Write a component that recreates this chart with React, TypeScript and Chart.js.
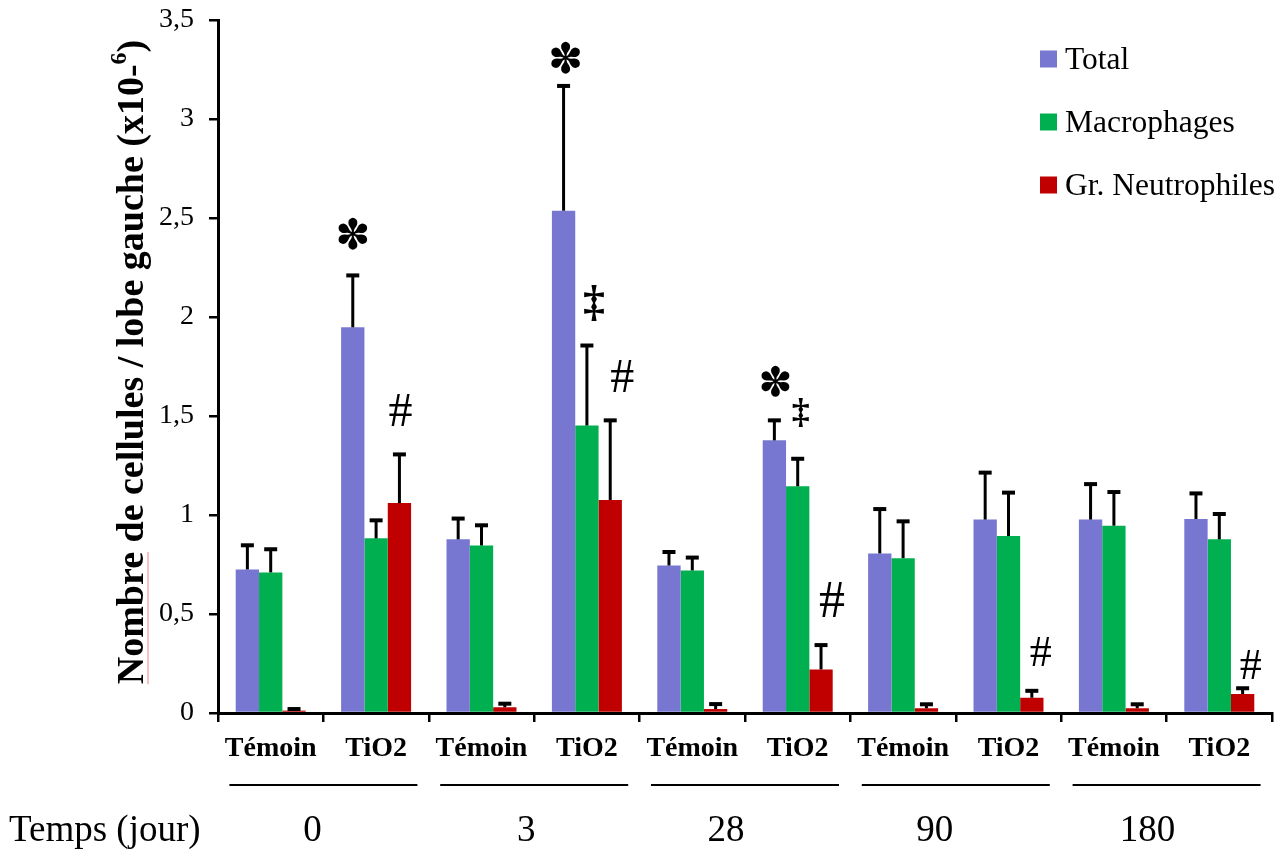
import React, { useEffect, useRef } from "react";
import { Chart, registerables } from "chart.js";

Chart.register(...registerables);

// ---------- DATA ----------
const categories = ["Témoin", "TiO2", "Témoin", "TiO2", "Témoin", "TiO2", "Témoin", "TiO2", "Témoin", "TiO2"];
const timeGroups = ["0", "3", "28", "90", "180"];
const timeAxisLabel = "Temps (jour)";
const seriesNames = ["Total", "Macrophages", "Gr. Neutrophiles"];

const totalValues = [0.725, 1.948, 0.877, 2.537, 0.745, 1.377, 0.806, 0.977, 0.977, 0.98];
const totalSD = [0.122, 0.262, 0.105, 0.63, 0.068, 0.101, 0.224, 0.237, 0.179, 0.129];

const macroValues = [0.71, 0.882, 0.846, 1.452, 0.72, 1.145, 0.782, 0.894, 0.946, 0.877];
const macroSD = [0.117, 0.091, 0.102, 0.404, 0.065, 0.139, 0.186, 0.219, 0.17, 0.128];

const neutroValues = [0.012, 1.06, 0.029, 1.076, 0.02, 0.22, 0.024, 0.077, 0.024, 0.096];
const neutroSD = [0.008, 0.246, 0.018, 0.402, 0.025, 0.123, 0.02, 0.035, 0.02, 0.029];

const yMin = 0;
const yMax = 3.5;
const yStep = 0.5;

// significance marks: category index, series index, value (centre of the mark), symbol
const annotations = [
  { cat: 1, series: 0, y: 2.42, symbol: "*" },
  { cat: 1, series: 2, y: 1.528, symbol: "#" },
  { cat: 3, series: 0, y: 3.31, symbol: "*" },
  { cat: 3, series: 1, y: 2.073, symbol: "‡" },
  { cat: 3, series: 2, y: 1.704, symbol: "#" },
  { cat: 5, series: 0, y: 1.679, symbol: "*" },
  { cat: 5, series: 1, y: 1.518, symbol: "‡" },
  { cat: 5, series: 2, y: 0.575, symbol: "#" },
  { cat: 7, series: 2, y: 0.309, symbol: "#" },
  { cat: 9, series: 2, y: 0.247, symbol: "#" },
];

// ---------- STYLE ----------
const COLORS = ["#7777D1", "#00B050", "#C00000"];
const SERIF = '"Liberation Serif", "Times New Roman", serif';
const annotNudge = [0, 1, 2, 7, 12, 1, 3, 11, 9, 8];
const annotSize = [42, 48, 42, 44, 48, 41, 36, 52, 44, 44];
const groupLabelNudge = [-11, -8, -19, -21, -19];

const values = [totalValues, macroValues, neutroValues];
const sds = [totalSD, macroSD, neutroSD];

const overlayPlugin = {
  id: "overlay",
  afterDatasetsDraw(chart: any) {
    const ctx = chart.ctx;
    const ys = chart.scales.y;
    chart.data.datasets.forEach((ds: any, di: number) => {
      const meta = chart.getDatasetMeta(di);
      meta.data.forEach((bar: any, i: number) => {
        const top = ys.getPixelForValue(ds.data[i] + sds[di][i]);
        ctx.save();
        ctx.strokeStyle = "#000";
        ctx.lineWidth = 3;
        ctx.beginPath();
        ctx.moveTo(bar.x, bar.y);
        ctx.lineTo(bar.x, top);
        ctx.stroke();
        ctx.lineWidth = 4;
        ctx.beginPath();
        ctx.moveTo(bar.x - 6.5, top);
        ctx.lineTo(bar.x + 6.5, top);
        ctx.stroke();
        ctx.restore();
      });
    });
  },
  afterDraw(chart: any) {
    const ctx = chart.ctx;
    const xs = chart.scales.x;
    const ys = chart.scales.y;

    // significance marks
    annotations.forEach((a, k) => {
      const bar = chart.getDatasetMeta(a.series).data[a.cat];
      const x = bar.x + annotNudge[k];
      const y = ys.getPixelForValue(a.y);
      ctx.save();
      ctx.fillStyle = "#000";
      ctx.textAlign = "center";
      ctx.textBaseline = "alphabetic";
      let sym = a.symbol;
      if (a.symbol === "*") {
        ctx.font = `bold ${annotSize[k]}px "DejaVu Sans"`;
        sym = "✽";
      } else if (a.symbol === "‡") {
        ctx.font = `bold ${annotSize[k]}px ${SERIF}`;
      } else {
        ctx.font = `${annotSize[k]}px ${SERIF}`;
      }
      const m = ctx.measureText(sym);
      const off = (m.actualBoundingBoxAscent - m.actualBoundingBoxDescent) / 2;
      ctx.fillText(sym, x, y + off);
      ctx.restore();
    });

    // legend
    ctx.save();
    seriesNames.forEach((name, i) => {
      const cy = 59 + i * 63;
      ctx.fillStyle = COLORS[i];
      ctx.fillRect(1040, cy - 8.5, 17, 17);
      ctx.fillStyle = "#000";
      ctx.font = `31.5px ${SERIF}`;
      ctx.textAlign = "left";
      ctx.textBaseline = "alphabetic";
      ctx.fillText(name, 1065, cy + 10);
    });
    ctx.restore();

    // y axis title (rotated)
    ctx.save();
    ctx.translate(143, 362);
    ctx.rotate(-Math.PI / 2);
    ctx.fillStyle = "#000";
    ctx.textBaseline = "alphabetic";
    ctx.textAlign = "left";
    const mainFont = `bold 38px ${SERIF}`;
    const supFont = `bold 24px ${SERIF}`;
    const main = "Nombre de cellules / lobe gauche (x10-";
    const sup = "6";
    const end = ")";
    ctx.font = mainFont;
    const wMain = ctx.measureText(main).width;
    const wEnd = ctx.measureText(end).width;
    const wFirst = ctx.measureText("Nombre").width;
    ctx.font = supFont;
    const wSup = ctx.measureText(sup).width;
    let x0 = -(wMain + wSup + wEnd) / 2;
    // faint red underline under the first word, as in the source figure
    ctx.strokeStyle = "#F08080";
    ctx.lineWidth = 1;
    ctx.beginPath();
    ctx.moveTo(x0, 5);
    ctx.lineTo(x0 + wFirst, 5);
    ctx.stroke();
    ctx.font = mainFont;
    ctx.fillText(main, x0, 0);
    x0 += wMain;
    ctx.font = supFont;
    ctx.fillText(sup, x0, -17);
    x0 += wSup;
    ctx.font = mainFont;
    ctx.fillText(end, x0, 0);
    ctx.restore();

    // group underlines and time labels
    ctx.save();
    ctx.strokeStyle = "#000";
    ctx.fillStyle = "#000";
    ctx.lineWidth = 2;
    timeGroups.forEach((g, p) => {
      const c = (xs.getPixelForValue(2 * p) + xs.getPixelForValue(2 * p + 1)) / 2;
      ctx.beginPath();
      ctx.moveTo(c - 94, 785);
      ctx.lineTo(c + 94, 785);
      ctx.stroke();
      ctx.font = `37px ${SERIF}`;
      ctx.textAlign = "center";
      ctx.textBaseline = "alphabetic";
      ctx.fillText(g, c + groupLabelNudge[p], 841);
    });
    ctx.font = `37px ${SERIF}`;
    ctx.textAlign = "left";
    ctx.fillText(timeAxisLabel, 9, 841);
    ctx.restore();
  },
};

export default function App() {
  const canvasRef = useRef<HTMLCanvasElement | null>(null);

  useEffect(() => {
    if (!canvasRef.current) return;
    const chart = new Chart(canvasRef.current, {
      type: "bar",
      data: {
        labels: categories.map((c, i) => `${c}#${i}`),
        datasets: seriesNames.map((name, i) => ({
          label: name,
          data: values[i],
          backgroundColor: COLORS[i],
          borderWidth: 0,
          categoryPercentage: 0.664,
          barPercentage: 1.0,
        })),
      },
      options: {
        responsive: false,
        animation: false,
        devicePixelRatio: 1,
        layout: { padding: { left: 0, right: 14, top: 20, bottom: 0 } },
        plugins: {
          legend: { display: false },
          tooltip: { enabled: false },
          title: { display: false },
        },
        scales: {
          x: {
            type: "category",
            offset: true,
            grid: {
              offset: true,
              drawOnChartArea: false,
              drawTicks: true,
              tickLength: 9,
              color: "#000",
              lineWidth: 2.5,
            },
            border: { display: true, color: "#000", width: 3 },
            ticks: {
              color: "#000",
              font: { family: SERIF, size: 28, weight: "bold" },
              padding: 10,
              maxRotation: 0,
              autoSkip: false,
              callback: (_v: any, i: number) => categories[i],
            },
            afterFit: (scale: any) => {
              scale.height = 139;
              scale.paddingLeft = 0;
              scale.paddingRight = 0;
            },
          },
          y: {
            min: yMin,
            max: yMax,
            ticks: {
              stepSize: yStep,
              color: "#000",
              font: { family: SERIF, size: 28 },
              padding: 15,
              callback: (v: any) => String(Number(v)).replace(".", ","),
            },
            grid: {
              drawOnChartArea: false,
              drawTicks: true,
              tickLength: 9,
              color: "#000",
              lineWidth: 2.5,
            },
            border: { display: true, color: "#000", width: 3 },
            afterFit: (scale: any) => {
              scale.width = 218;
              scale.paddingTop = 0;
              scale.paddingBottom = 0;
            },
          },
        },
      },
      plugins: [overlayPlugin],
    });
    return () => chart.destroy();
  }, []);

  return (
    <div style={{ position: "absolute", left: 0, top: 0, width: 1286, height: 852, background: "#fff" }}>
      <canvas ref={canvasRef} width={1286} height={852} style={{ display: "block" }} />
    </div>
  );
}
